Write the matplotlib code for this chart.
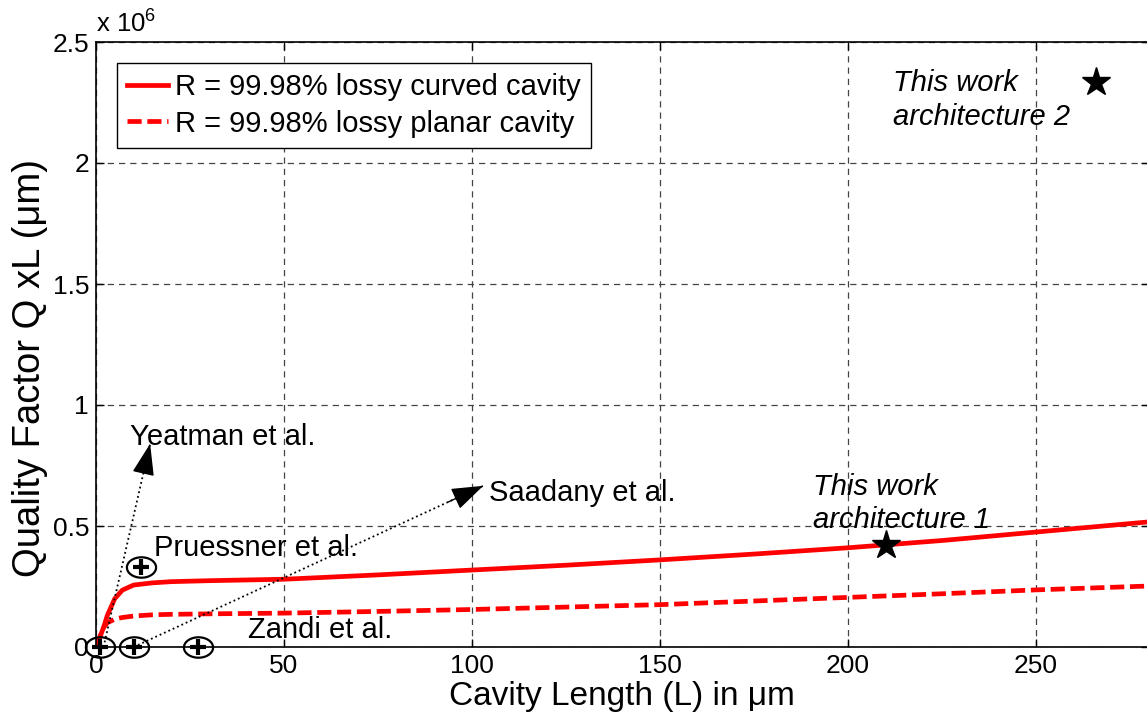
import numpy as np
import matplotlib
matplotlib.use("Agg")
import matplotlib.pyplot as plt
from matplotlib.path import Path
from matplotlib.ticker import FuncFormatter

plt.rcParams['font.family'] = ['Liberation Sans', 'DejaVu Sans']
plt.rcParams['mathtext.default'] = 'regular'

# cavity length (um) and Q x L (um)
cavity_len = [0, 1, 2, 3, 5, 7, 10, 15, 20, 30, 50, 75, 100, 125, 150, 175, 200, 225, 250, 280]
qxl_curved = [0, 0.04e6, 0.08e6, 0.13e6, 0.20e6, 0.235e6, 0.256e6, 0.265e6, 0.27e6, 0.274e6,
              0.28e6, 0.298e6, 0.318e6, 0.338e6, 0.36e6, 0.384e6, 0.41e6, 0.44e6, 0.475e6, 0.517e6]
qxl_planar = [0, 0.04e6, 0.08e6, 0.10e6, 0.115e6, 0.122e6, 0.128e6, 0.133e6, 0.135e6, 0.137e6,
              0.14e6, 0.147e6, 0.155e6, 0.165e6, 0.175e6, 0.19e6, 0.205e6, 0.22e6, 0.236e6, 0.252e6]

# literature points (circled plus) and this work (stars)
lit_len = [1, 10, 27, 12]
lit_qxl = [0, 0, 0, 0.33e6]
work_len = [210, 266]
work_qxl = [0.42e6, 2.335e6]

legend_labels = ['R = 99.98% lossy curved cavity', 'R = 99.98% lossy planar cavity']

fig = plt.figure(figsize=(11.47, 7.22), dpi=100)
ax = fig.add_axes([96 / 1147, 75 / 722, 1052.8 / 1147, 605 / 722])

ax.plot(cavity_len, qxl_curved, color='red', lw=3.4, label=legend_labels[0])
ax.plot(cavity_len, qxl_planar, color='red', lw=3.4, ls=(0, (3, 1.2)), label=legend_labels[1])

# elliptical circle marker
t = np.linspace(0, 2 * np.pi, 60)
ellipse = Path(np.column_stack([np.cos(t), 0.7 * np.sin(t)]))
ax.plot(lit_len, lit_qxl, ls='none', marker=ellipse, ms=21, mfc='none', mec='k', mew=1.6, clip_on=False)
ax.plot(lit_len, lit_qxl, ls='none', marker='+', ms=11, mec='k', mew=3, clip_on=False)

ax.plot(work_len, work_qxl, ls='none', marker='*', ms=21, color='k')

# dotted arrows
arrows = [((2, 0), (14.4, 0.84e6)), ((10, 0), (103, 0.666e6))]
for (x0, y0), (x1, y1) in arrows:
    ax.plot([x0, x1], [y0, y1], color='k', ls=':', lw=1.3)
    xs = x0 + 0.9 * (x1 - x0)
    ys = y0 + 0.9 * (y1 - y0)
    ax.annotate('', xy=(x1, y1), xytext=(xs, ys),
                arrowprops=dict(arrowstyle='-|>,head_length=1.0,head_width=0.35',
                                color='k', lw=1, mutation_scale=20, shrinkA=0, shrinkB=0))

fs = 21
ax.text(9, 0.868e6, 'Yeatman et al.', fontsize=fs, va='center')
ax.text(104.5, 0.636e6, 'Saadany et al.', fontsize=fs, va='center')
ax.text(15.4, 0.409e6, 'Pruessner et al.', fontsize=fs, va='center')
ax.text(40.4, 0.07e6, 'Zandi et al.', fontsize=fs, va='center')
ax.text(190.7, 0.661e6, 'This work', fontsize=fs, style='italic', va='center')
ax.text(190.7, 0.525e6, 'architecture 1', fontsize=fs, style='italic', va='center')
ax.text(212, 2.33e6, 'This work', fontsize=fs, style='italic', va='center')
ax.text(212, 2.19e6, 'architecture 2', fontsize=fs, style='italic', va='center')

ax.set_xlim(0, 280)
ax.set_ylim(0, 2.5e6)
ax.set_xticks([0, 50, 100, 150, 200, 250])
ax.set_yticks([0, 0.5e6, 1e6, 1.5e6, 2e6, 2.5e6])
ax.yaxis.set_major_formatter(FuncFormatter(lambda v, p: '%g' % (v / 1e6)))
ax.tick_params(direction='in', top=True, right=True, labelsize=19, length=6, width=1, pad=5)
ax.grid(True, color='#444444', ls=(0, (5, 4)), lw=0.9)
ax.set_axisbelow(True)
for s in ax.spines.values():
    s.set_linewidth(1.2)

ax.text(0, 1.008, 'x 10$^{6}$', transform=ax.transAxes, fontsize=18.5, va='bottom', ha='left')

ax.set_xlabel('Cavity Length (L) in μm', fontsize=24, labelpad=2)
ax.set_ylabel('Quality Factor Q xL (μm)', fontsize=27.5)
ax.yaxis.set_label_coords(-0.046, 0.461)

leg = ax.legend(loc='upper left', bbox_to_anchor=(0.02, 0.966), borderaxespad=0,
                fontsize=21, fancybox=False, edgecolor='k', framealpha=1,
                handlelength=1.4, handletextpad=0.23, labelspacing=0.3, borderpad=0.35)
leg.get_frame().set_linewidth(1)

fig.savefig('out.png', dpi=100)
